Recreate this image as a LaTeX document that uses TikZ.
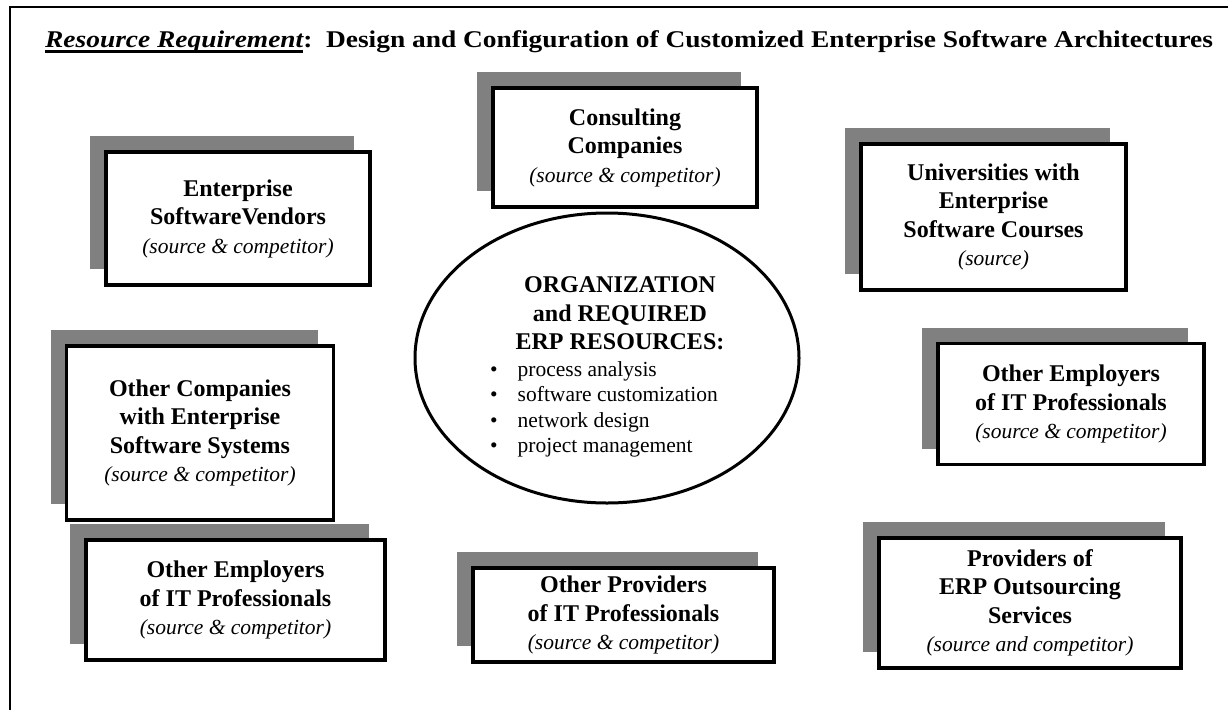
\documentclass[tikz,border=0pt]{standalone}
\usepackage{fontspec}
\setmainfont{Liberation Serif}
\usetikzlibrary{shapes.geometric,shadows}
\definecolor{shadegray}{HTML}{808080}
\newcommand{\boxfont}{\fontsize{24}{28.5}\selectfont\bfseries}
\newcommand{\notefont}{\fontsize{21.5}{27}\selectfont\mdseries\itshape}
\newcommand{\listfont}{\fontsize{21.5}{25.5}\selectfont}
\newcommand{\thickul}[1]{\setbox0\hbox{#1}\rlap{\rule[-5.5pt]{\wd0}{2.4pt}}\box0}

\begin{document}
\begin{tikzpicture}[x=1pt,y=1pt]
  \tikzset{resbox/.style={draw,line width=3.5pt,fill=white,align=center,font=\boxfont,
      drop shadow={shadow xshift=-16pt,shadow yshift=16pt,fill=shadegray,opacity=1}},
    hub/.style={draw,ellipse,line width=3pt,inner sep=0pt}}
  \useasboundingbox (0,0) rectangle (1228,-710);
  \draw[line width=2.5pt] (10,-710)--(10,-7)--(1228,-7);
  \node[anchor=base west,inner sep=0pt,font={\fontsize{24}{28}\selectfont\bfseries}] (title) at (45,-47)
    {\scalebox{1.142}[1]{\thickul{\itshape Resource Requirement}:\ \ Design and Configuration of Customized Enterprise Software Architectures}};
  % outer ring of sources
  \node[resbox,minimum width=264pt,minimum height=133pt] (vendors) at (238,-218.5)
    {Enterprise\\ SoftwareVendors\\ {\notefont(source \& competitor)}};
  \node[resbox,minimum width=264pt,minimum height=119pt] (consult) at (625,-147.5)
    {Consulting\\ Companies\\ {\notefont(source \& competitor)}};
  \node[resbox,minimum width=265pt,minimum height=146pt] (univ) at (993.5,-217)
    {Universities with\\ Enterprise\\ Software Courses\\ {\notefont(source)}};
  \node[resbox,minimum width=267pt,minimum height=174pt] (othercomp) at (200,-433)
    {Other Companies\\ with Enterprise\\ Software Systems\\ {\notefont(source \& competitor)}};
  \node[resbox,minimum width=266pt,minimum height=121pt] (employright) at (1071,-404)
    {Other Employers\\ of IT Professionals\\ {\notefont(source \& competitor)}};
  \node[resbox,minimum width=299pt,minimum height=120pt] (employleft) at (235.5,-600)
    {Other Employers\\ of IT Professionals\\ {\notefont(source \& competitor)}};
  \node[resbox,minimum width=301pt,minimum height=94pt] (providers) at (623.5,-615)
    {Other Providers\\ of IT Professionals\\ {\notefont(source \& competitor)}};
  \node[resbox,minimum width=302pt,minimum height=130pt] (outsourcing) at (1030,-603)
    {Providers of\\ ERP Outsourcing\\ Services\\ {\notefont(source and competitor)}};
  % organization in the middle
  \node[hub,minimum width=384pt,minimum height=290pt] (org) at (607,-358) {};
  \node[anchor=north,inner sep=0pt,align=center,font=\boxfont] (orghead) at (620,-276.5)
    {ORGANIZATION\\ and REQUIRED\\ ERP RESOURCES:};
  \node[anchor=north west,inner sep=0pt,align=left,font=\listfont] (orglist) at (490,-361)
    {\textbullet\hspace{20pt}process analysis\\
     \textbullet\hspace{20pt}software customization\\
     \textbullet\hspace{20pt}network design\\
     \textbullet\hspace{20pt}project management};
\end{tikzpicture}
\end{document}
